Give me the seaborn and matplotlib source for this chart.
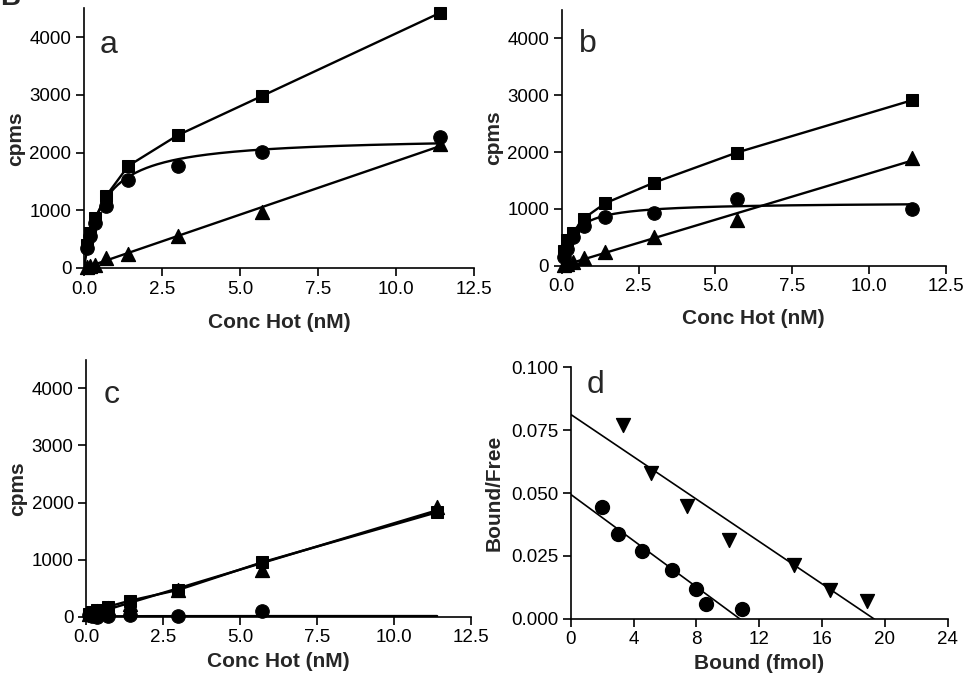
import matplotlib
matplotlib.use('Agg')
import matplotlib.pyplot as plt
import numpy as np
import seaborn as sns

sns.set_style('ticks')
plt.rcParams['font.family'] = ['Liberation Sans', 'DejaVu Sans']

# Concentrations of hot ligand (nM), shared by panels a-c
conc = [0.09, 0.18, 0.36, 0.71, 1.42, 3.0, 5.7, 11.4]

# Panel a (cpms)
a_total = [400, 600, 870, 1250, 1770, 2300, 2980, 4420]
a_specific = [350, 550, 780, 1080, 1520, 1760, 2010, 2270]
a_nonspec = [20, 35, 60, 180, 250, 560, 970, 2150]
a_bmax, a_kd = 2280, 0.63

# Panel b (cpms)
b_total = [250, 450, 580, 830, 1100, 1460, 1990, 2910]
b_specific = [150, 300, 500, 690, 850, 920, 1170, 1000]
b_nonspec = [10, 30, 60, 140, 235, 510, 800, 1900]
b_bmax, b_kd = 1116, 0.38

# Panel c (cpms) - no specific point shown at 11.4 nM
c_total = [50, 80, 110, 175, 280, 470, 950, 1830]
c_specific = [30, 20, 0, 10, 30, 20, 100]
c_nonspec = [40, 70, 100, 150, 230, 470, 820, 1930]
c_bmax, c_kd = 12, 0.5

# Panel d - Scatchard (Bound fmol, Bound/Free)
d_tri_x = [3.3, 5.1, 7.4, 10.1, 14.2, 16.5, 18.85]
d_tri_y = [0.0771, 0.0578, 0.045, 0.0313, 0.0214, 0.0114, 0.0070]
d_circ_x = [2.02, 3.04, 4.56, 6.43, 7.98, 8.6, 10.93]
d_circ_y = [0.0446, 0.0336, 0.0269, 0.0194, 0.0117, 0.0058, 0.0038]

W, H = 963, 682
fig = plt.figure(figsize=(W / 100, H / 100), dpi=100)


def px_axes(left, right, bottom, top):
    return fig.add_axes([left / W, 1 - bottom / H, (right - left) / W, (bottom - top) / H])


ax_a = px_axes(84, 474, 268, 8.4)
ax_b = px_axes(561.7, 945.7, 265.7, 9.9)
ax_c = px_axes(86, 471, 616.7, 359.8)
ax_d = px_axes(570.7, 947.7, 618.7, 367.3)

LW = 1.7
MS = 9
TICK_FS = 13.5
LAB_FS = 15


def saturation_panel(ax, total, specific, nonspec, bmax, kd, letter, lx, ly, xpad):
    ax.set_xlim(0, 12.5)
    ax.set_ylim(0, 4500)
    # total binding: points joined by straight segments
    sns.lineplot(x=conc, y=total, ax=ax, color='black', lw=LW, marker='s',
                 markersize=MS, markeredgecolor='black', clip_on=False)
    # specific binding: points plus one-site fit
    xs = np.linspace(0, conc[-1], 200)
    sns.lineplot(x=xs, y=bmax * xs / (kd + xs), ax=ax, color='black', lw=LW)
    sns.scatterplot(x=conc[:len(specific)], y=specific, ax=ax, color='black', marker='o',
                    s=95, edgecolor='black', clip_on=False, zorder=4)
    # non-specific: linear regression
    sns.regplot(x=conc, y=nonspec, ax=ax, ci=None, color='black', marker='^',
                scatter_kws={'s': 100, 'clip_on': False, 'alpha': 1, 'zorder': 4},
                line_kws={'lw': LW})
    ax.set_xlim(0, 12.5)
    ax.set_ylim(0, 4500)
    ax.set_xticks([0, 2.5, 5, 7.5, 10, 12.5])
    ax.set_xticklabels(['0.0', '2.5', '5.0', '7.5', '10.0', '12.5'])
    ax.set_yticks([0, 1000, 2000, 3000, 4000])
    ax.set_xlabel('Conc Hot (nM)', fontsize=LAB_FS, fontweight='bold', labelpad=xpad)
    ax.set_ylabel('cpms', fontsize=LAB_FS, fontweight='bold', labelpad=3)
    ax.text(lx, ly, letter, transform=ax.transAxes, fontsize=23, va='baseline')


saturation_panel(ax_a, a_total, a_specific, a_nonspec, a_bmax, a_kd, 'a', 0.041, 0.827, 11)
saturation_panel(ax_b, b_total, b_specific, b_nonspec, b_bmax, b_kd, 'b', 0.045, 0.837, 10)
saturation_panel(ax_c, c_total, c_specific, c_nonspec, c_bmax, c_kd, 'c', 0.047, 0.831, 4)

# Scatchard panel: limits first so the fitted lines span the whole axis
ax_d.set_xlim(0, 24)
ax_d.set_ylim(0, 0.1)
sns.regplot(x=d_tri_x, y=d_tri_y, ax=ax_d, ci=None, truncate=False, color='black', marker='v',
            scatter_kws={'s': 100, 'alpha': 1, 'clip_on': False}, line_kws={'lw': 1.2})
sns.regplot(x=d_circ_x, y=d_circ_y, ax=ax_d, ci=None, truncate=False, color='black', marker='o',
            scatter_kws={'s': 100, 'alpha': 1, 'clip_on': False}, line_kws={'lw': 1.2})
ax_d.set_xlim(0, 24)
ax_d.set_ylim(0, 0.1)
ax_d.set_xticks([0, 4, 8, 12, 16, 20, 24])
ax_d.set_yticks([0, 0.025, 0.05, 0.075, 0.1])
ax_d.set_yticklabels(['0.000', '0.025', '0.050', '0.075', '0.100'])
ax_d.set_xlabel('Bound (fmol)', fontsize=LAB_FS, fontweight='bold', labelpad=4)
ax_d.set_ylabel('Bound/Free', fontsize=LAB_FS, fontweight='bold', labelpad=5)
ax_d.text(0.042, 0.897, 'd', transform=ax_d.transAxes, fontsize=23, va='baseline')

for ax in [ax_a, ax_b, ax_c, ax_d]:
    sns.despine(ax=ax)
    for s in ['left', 'bottom']:
        ax.spines[s].set_linewidth(1.2)
        ax.spines[s].set_color('black')
    ax.tick_params(direction='out', length=6, width=1.2, labelsize=TICK_FS,
                   colors='black', pad=3)

# partially cut-off panel label at the top-left corner
fig.text(0.0, 0.9927, 'B', fontsize=20, fontweight='bold', va='baseline', ha='left')

fig.savefig('out.png', dpi=100)
